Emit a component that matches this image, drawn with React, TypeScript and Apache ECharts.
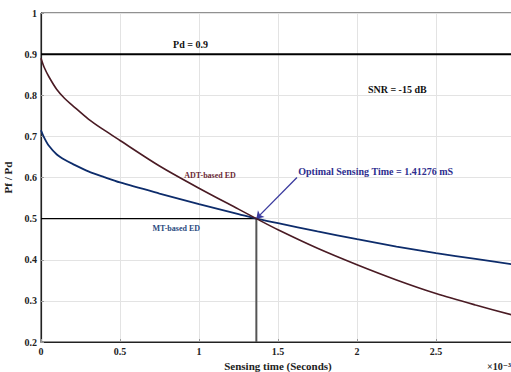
import React, { useEffect, useRef } from "react";
import * as echarts from "echarts";

// Sensing time (x 10^-3 s)
const timeMs = [0, 0.02, 0.05, 0.1, 0.15, 0.2, 0.3, 0.4, 0.5, 0.75, 1.0, 1.25, 1.363, 1.5, 1.75, 2.0, 2.25, 2.5, 2.75, 3.0];
// Pf / Pd curves
const adtPf = [0.89, 0.868, 0.845, 0.814, 0.792, 0.775, 0.742, 0.715, 0.69, 0.628, 0.574, 0.523, 0.5, 0.473, 0.428, 0.388, 0.351, 0.318, 0.29, 0.264];
const mtPf = [0.715, 0.697, 0.677, 0.656, 0.643, 0.633, 0.615, 0.601, 0.588, 0.561, 0.535, 0.511, 0.5, 0.489, 0.469, 0.45, 0.432, 0.416, 0.402, 0.388];

const pdTarget = 0.9;
const optimalTime = 1.363;
const optimalPf = 0.5;
const yMin = 0.2;
const xMax = 3;

// Annotations [x, y] in data coordinates
const annPd: [number, number] = [0.946, 0.923];
const annSnr: [number, number] = [2.255, 0.813];
const annAdt: [number, number] = [1.07, 0.606];
const annMt: [number, number] = [0.856, 0.475];
const annOpt: [number, number] = [1.628, 0.614];
const arrowStart: [number, number] = [1.62, 0.6];

const serif = "'Liberation Serif', 'DejaVu Serif', serif";

export default function App() {
  const ref = useRef<HTMLDivElement>(null);
  useEffect(() => {
    if (!ref.current) return;
    const chart = echarts.init(ref.current, undefined, { renderer: "svg" });
    const adtData = timeMs.map((t, i) => [t, adtPf[i]]);
    const mtData = timeMs.map((t, i) => [t, mtPf[i]]);
    chart.setOption({
      animation: false,
      backgroundColor: "#ffffff",
      grid: {
        left: 41,
        top: 13,
        right: -4,
        bottom: 30,
        outerBoundsMode: "none",
        containLabel: false,
        show: true,
        borderColor: "#222",
        borderWidth: 1,
      },
      xAxis: {
        type: "value",
        min: 0,
        max: xMax,
        interval: 0.5,
        name: "Sensing time (Seconds)",
        nameLocation: "middle",
        nameGap: 17,
        nameTextStyle: { fontFamily: serif, fontWeight: "bold", fontSize: 11, color: "#222" },
        axisLine: { show: true, lineStyle: { color: "#222", width: 1.2 } },
        axisTick: { show: true, inside: true, length: 3, lineStyle: { color: "#999" } },
        axisLabel: {
          fontFamily: serif,
          fontWeight: "bold",
          fontSize: 10,
          color: "#222",
          margin: 4,
          formatter: (v: number) => (v >= xMax ? "" : String(+v.toFixed(1))),
        },
        splitLine: { show: true, lineStyle: { color: "#e3e3e3", width: 1 } },
      },
      yAxis: {
        type: "value",
        min: yMin,
        max: 1,
        interval: 0.1,
        name: "Pf / Pd",
        nameLocation: "middle",
        nameGap: 22,
        nameRotate: 90,
        nameTextStyle: { fontFamily: serif, fontWeight: "bold", fontSize: 11, color: "#222" },
        axisLine: { show: true, lineStyle: { color: "#222", width: 1.2 } },
        axisTick: { show: true, inside: true, length: 3, lineStyle: { color: "#999" } },
        axisLabel: {
          fontFamily: serif,
          fontWeight: "bold",
          fontSize: 10,
          color: "#222",
          margin: 4,
          formatter: (v: number) => (v >= 1 ? "1" : v.toFixed(1)),
        },
        splitLine: { show: true, lineStyle: { color: "#e3e3e3", width: 1 } },
      },
      series: [
        {
          type: "line",
          name: "Pd",
          data: [[0, pdTarget], [xMax, pdTarget]],
          showSymbol: false,
          lineStyle: { color: "#000", width: 2 },
          z: 3,
        },
        {
          type: "line",
          name: "Pf05",
          data: [[0, optimalPf], [optimalTime, optimalPf]],
          showSymbol: false,
          lineStyle: { color: "#000", width: 1.4 },
          z: 3,
        },
        {
          type: "line",
          name: "Vertical",
          data: [[optimalTime, yMin], [optimalTime, optimalPf]],
          showSymbol: false,
          lineStyle: { color: "#555", width: 2 },
          z: 3,
        },
        {
          type: "line",
          name: "MT-based ED",
          data: mtData,
          smooth: 0.3,
          showSymbol: false,
          lineStyle: { color: "#0d2c6b", width: 1.8 },
          z: 4,
        },
        {
          type: "line",
          name: "ADT-based ED",
          data: adtData,
          smooth: 0.3,
          showSymbol: false,
          lineStyle: { color: "#4a1b24", width: 1.6 },
          z: 5,
          markLine: {
            silent: true,
            symbol: ["none", "arrow"],
            symbolSize: 7,
            label: { show: false },
            lineStyle: { color: "#3a3a9e", width: 1.3, type: "solid" },
            data: [[{ coord: arrowStart }, { coord: [optimalTime, optimalPf] }]],
          },
        },
      ],
    });

    const px = (p: [number, number]) => chart.convertToPixel({ gridIndex: 0 }, p) as number[];
    const txt = (p: [number, number], text: string, color: string, size: number, align = "center") => {
      const [x, y] = px(p);
      return {
        type: "text",
        x,
        y,
        z: 10,
        style: {
          text,
          fill: color,
          font: `bold ${size}px ${serif}`,
          textAlign: align,
          textVerticalAlign: "middle",
        },
      };
    };
    chart.setOption({
      graphic: [
        txt(annPd, "Pd = 0.9", "#111", 10),
        txt(annSnr, "SNR = -15 dB", "#111", 10),
        txt(annAdt, "ADT-based ED", "#6b2a36", 8),
        txt(annMt, "MT-based ED", "#2a4a80", 8),
        txt(annOpt, "Optimal Sensing Time = 1.41276 mS", "#2e2e8e", 10, "left"),
        {
          type: "text",
          right: 0,
          bottom: 1,
          z: 10,
          style: { text: "×10⁻³", fill: "#222", font: `bold 10px ${serif}` },
        },
      ],
    });
    return () => chart.dispose();
  }, []);
  return (
    <div
      ref={ref}
      style={{ position: "fixed", left: 0, top: 0, width: 511, height: 372, background: "#fff" }}
    />
  );
}
